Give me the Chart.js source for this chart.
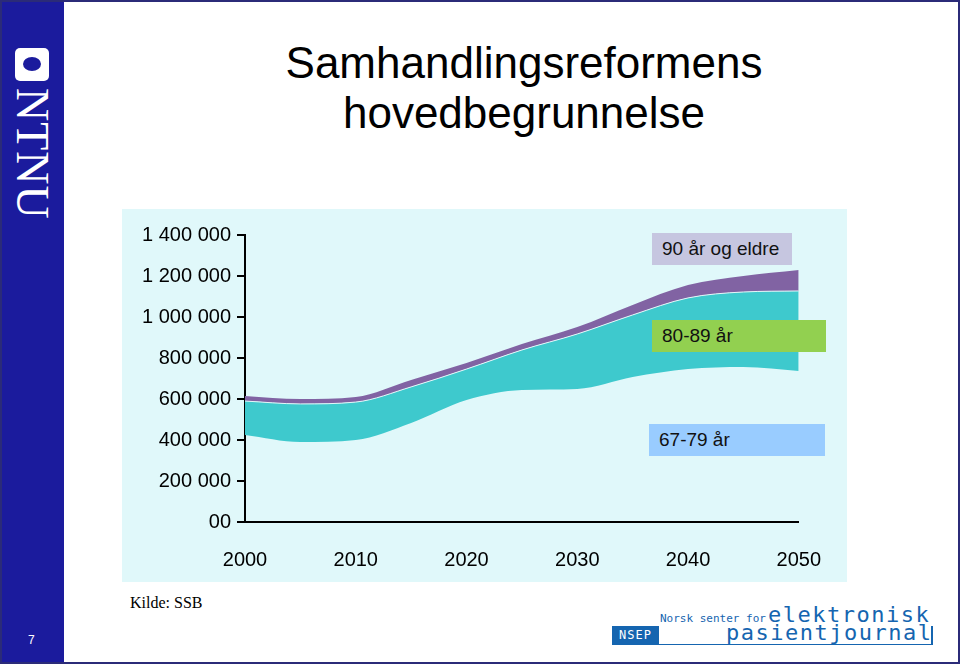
<!DOCTYPE html>
<html>
  <head>
    <meta charset="UTF-8">
    <title>Samhandlingsreformens hovedbegrunnelse</title>
    <script src="https://cdn.jsdelivr.net/npm/chart.js"></script>
    <style>
      body { margin: 0; background: #fff; }
      #slide { position: relative; width: 960px; height: 664px; overflow: hidden; background: #fff;
               box-sizing: border-box; border: 2px solid #2b2b78; font-family: "Liberation Sans", Arial, sans-serif; }
      #sidebar { position: absolute; left: 0; top: 0; width: 62px; height: 100%; background: #1b1b9d; }
      #logoBox { position: absolute; left: 13px; top: 46px; width: 34px; height: 33px; background: #fff; border-radius: 5px; }
      #logoBox div { position: absolute; left: 8px; top: 9px; width: 18px; height: 14px; background: #1b1b9d; border-radius: 50%; }
      #ntnu { position: absolute; left: 48px; top: 86px; transform-origin: 0 0; transform: rotate(90deg);
              font-family: "Liberation Serif", serif; font-size: 46px; color: #fff; letter-spacing: 1px; line-height: 36px; }
      #pnum { position: absolute; left: 26px; top: 631px; color: #fff; font-size: 12px; }
      h1 { position: absolute; left: 62px; width: 920px; top: 36px; margin: 0; text-align: center;
           font-weight: normal; font-size: 44px; line-height: 50px; color: #000; }
      #chartWrap { position: absolute; left: 120px; top: 207px; width: 725px; height: 373px; background: #e0f8fa; }
      .tag { position: absolute; height: 32px; line-height: 32px; font-size: 19px; color: #111; padding-left: 10px; box-sizing: border-box; }
      #kilde { position: absolute; left: 128px; top: 592px; font-family: "Liberation Serif", serif; font-size: 16px; }
      #nsep { position: absolute; left: 610px; top: 604px; width: 322px; height: 42px; font-family: "DejaVu Sans Mono", monospace; color: #1565b0; }
    </style>
  </head>
  <body>
    <div id="slide">
      <div id="sidebar">
        <div id="logoBox"><div></div></div>
        <div id="ntnu">NTNU</div>
        <div id="pnum">7</div>
      </div>
      <h1>Samhandlingsreformens<br>hovedbegrunnelse</h1>

      <div id="chartWrap">
        <canvas id="myChart" width="725" height="373"></canvas>
      </div>

      <div class="tag" style="left:650px; top:231px; width:140px; background:#c6c6e0;">90 år og eldre</div>
      <div class="tag" style="left:650px; top:318px; width:174px; background:#92d050;">80-89 år</div>
      <div class="tag" style="left:647px; top:422px; width:176px; background:#99ccff;">67-79 år</div>

      <div id="kilde">Kilde: SSB</div>

      <div id="nsep">
        <span style="position:absolute; left:48px; top:6px; font-size:11px;">Norsk senter for</span>
        <span style="position:absolute; left:156px; top:-4px; font-size:22px; letter-spacing:1.5px;">elektronisk</span>
        <div style="position:absolute; left:0; top:20px; width:47px; height:19px; background:#1565b0; color:#fff; font-size:12px; line-height:19px; text-align:center; letter-spacing:1px;">NSEP</div>
        <div style="position:absolute; left:47px; top:20px; width:272px; height:18px; border-bottom:1px solid #1565b0; border-right:2px solid #1565b0;"></div>
        <span style="position:absolute; left:114px; top:14px; font-size:22px; letter-spacing:1.5px;">pasientjournal</span>
      </div>
    </div>

    <script>
      // Befolkning 67 år og eldre, SSB-framskriving (tall i personer)
      const years = [2000, 2005, 2010, 2015, 2020, 2025, 2030, 2035, 2040, 2045, 2050];
      const age67to79 = [424000, 390000, 400000, 483000, 595000, 644000, 649000, 707000, 746000, 756000, 737000];
      const age80to89 = [166000, 186000, 185000, 176000, 151000, 195000, 268000, 303000, 347000, 366000, 390000];
      const age90plus = [25000, 24000, 25000, 34000, 30000, 29000, 34000, 49000, 63000, 78000, 102000];
      const xTicks = [2000, 2010, 2020, 2030, 2040, 2050];
      const yTicks = [0, 200000, 400000, 600000, 800000, 1000000, 1200000, 1400000];

      function points(values) {
        return values.map((v, i) => ({ x: years[i], y: v }));
      }

      function formatNumber(v) {
        if (v === 0) return '00';
        return String(v).replace(/\B(?=(\d{3})+(?!\d))/g, ' ');
      }

      const tickFont = { family: '"Liberation Sans", Arial, sans-serif', size: 20 };

      const ctx = document.getElementById('myChart').getContext('2d');
      new Chart(ctx, {
        type: 'line',
        data: {
          datasets: [
            {
              label: '67-79 år',
              data: points(age67to79),
              backgroundColor: 'rgba(0,0,0,0)',
              borderWidth: 0,
              fill: false
            },
            {
              label: '80-89 år',
              data: points(age80to89),
              backgroundColor: '#3ec9cd',
              borderColor: '#e4f6f8',
              borderWidth: 1,
              fill: '-1'
            },
            {
              label: '90 år og eldre',
              data: points(age90plus),
              backgroundColor: '#8163a3',
              borderWidth: 0,
              fill: '-1'
            }
          ]
        },
        options: {
          responsive: false,
          animation: false,
          elements: { point: { radius: 0 }, line: { cubicInterpolationMode: 'monotone' } },
          layout: { padding: { top: 26, right: 47, left: 0, bottom: 0 } },
          plugins: { legend: { display: false }, tooltip: { enabled: false } },
          scales: {
            x: {
              type: 'linear',
              min: 2000,
              max: 2050,
              afterBuildTicks: (scale) => { scale.ticks = xTicks.map(v => ({ value: v })); },
              afterFit: (scale) => { scale.height = 60; },
              grid: { drawOnChartArea: false, drawTicks: false },
              border: { display: true, color: '#000', width: 2 },
              ticks: { padding: 26, color: '#000', font: tickFont, maxRotation: 0, callback: v => String(v) }
            },
            y: {
              stacked: true,
              min: 0,
              max: 1400000,
              afterBuildTicks: (scale) => { scale.ticks = yTicks.map(v => ({ value: v })); },
              afterFit: (scale) => { scale.width = 123; },
              grid: { drawOnChartArea: false, color: '#000', lineWidth: 2, tickLength: 8 },
              border: { display: true, color: '#000', width: 2 },
              ticks: { padding: 6, color: '#000', font: tickFont, callback: v => formatNumber(v) }
            }
          }
        }
      });
    </script>
  </body>
</html>
